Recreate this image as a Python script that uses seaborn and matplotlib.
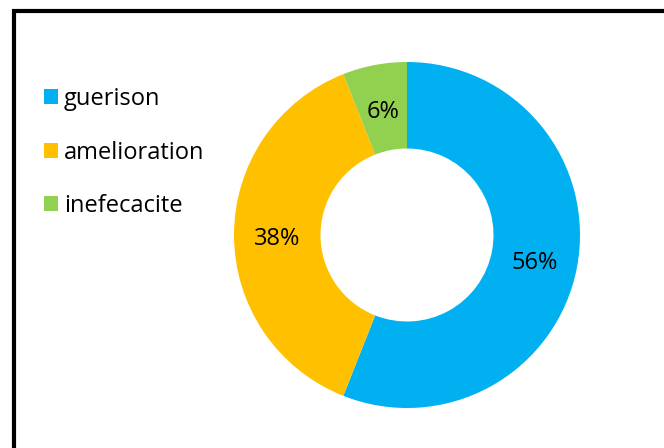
import matplotlib
matplotlib.use("Agg")
import matplotlib.pyplot as plt
from matplotlib.patches import Patch, Rectangle
from matplotlib.transforms import offset_copy
import seaborn as sns

# Outcome categories and their shares (percent)
categories = ["guerison", "amelioration", "inefecacite"]
shares = [56, 38, 6]
colors = ["#00B0F0", "#FFC000", "#92D050"]

sns.set_theme(style="white")
plt.rcParams["font.family"] = ["Open Sans", "DejaVu Sans"]
plt.rcParams["text.color"] = "black"
palette = sns.color_palette(colors)

W, H, DPI = 664, 448, 100
fig = plt.figure(figsize=(W / DPI, H / DPI), dpi=DPI)
fig.patch.set_facecolor("white")

# Donut axes: centre (407, 235) px, outer radius 173 px
cx, cy, r = 407, 235, 173
ax = fig.add_axes([(cx - r) / W, (H - cy - r) / H, 2 * r / W, 2 * r / H])
wedges, texts, autotexts = ax.pie(
    shares,
    colors=palette,
    startangle=90,
    counterclock=False,
    radius=1.0,
    autopct=lambda p: f"{p:.0f}%",
    pctdistance=0.75,
    wedgeprops=dict(width=0.5, edgecolor="none"),
    textprops=dict(fontsize=17, color="black"),
)
# nudge percentage labels slightly downward
for t in autotexts:
    t.set_transform(offset_copy(t.get_transform(), fig=fig, x=0, y=-3, units="points"))
ax.set_xlim(-1, 1)
ax.set_ylim(-1, 1)
ax.set_aspect("equal")
ax.axis("off")

# Legend on the left
handles = [Patch(facecolor=c, edgecolor="none") for c in palette]
leg = fig.legend(
    handles,
    categories,
    loc="upper left",
    bbox_to_anchor=(44 / W, 1 - 87 / H),
    frameon=False,
    fontsize=17,
    handlelength=0.59,
    handleheight=0.59,
    handletextpad=0.25,
    labelspacing=1.25,
    borderaxespad=0,
    borderpad=0,
)
for t in leg.get_texts():
    t.set_color("black")

# Chart frame (continues past right and bottom edges)
fig.add_artist(Rectangle((14 / W, -0.05), 1.2, 1 - 11 / H + 0.05,
                         transform=fig.transFigure, fill=False,
                         edgecolor="black", linewidth=3))

fig.savefig("out.png", dpi=DPI, facecolor="white")
